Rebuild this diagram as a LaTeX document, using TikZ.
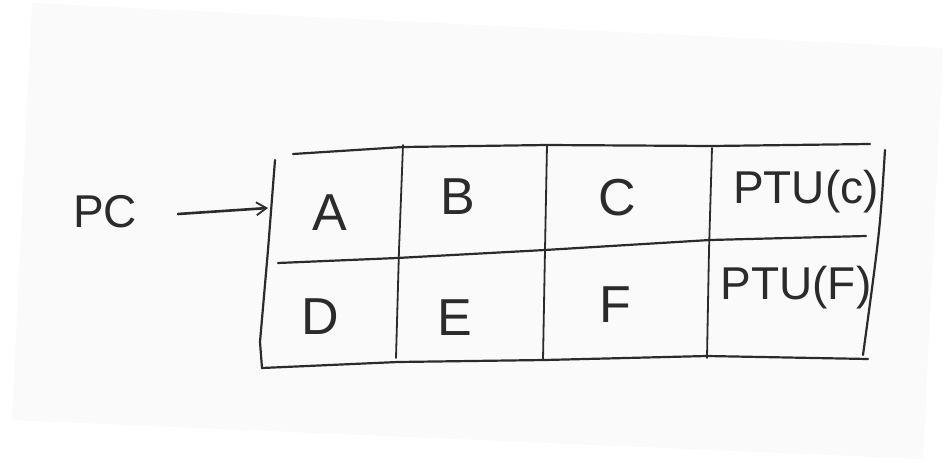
\documentclass[tikz,border=0pt]{standalone}
\usepackage{fontspec}
\setmainfont{Liberation Sans}
\usetikzlibrary{arrows.meta}
\definecolor{ink}{HTML}{2B2B2B}
\definecolor{paper}{HTML}{FAFAFA}
\tikzset{
  pen/.style={draw=ink, line width=2.2pt, line cap=round, line join=round},
  thinpen/.style={draw=ink, line width=1.8pt, line cap=round, line join=round},
  big/.style={text=ink, inner sep=0pt, font=\fontsize{52}{52}\selectfont},
  mid/.style={text=ink, inner sep=0pt, font=\fontsize{46}{46}\selectfont},
}
\begin{document}
\begin{tikzpicture}[x=1pt,y=-1pt]
\useasboundingbox (0,0) rectangle (946,463);
\fill[white] (0,0) rectangle (946,463);
\fill[paper] (32,3) -- (943,48) -- (923,459) -- (12,420) -- cycle;

% label and arrow
\node[mid] (pc) at (105,212) {PC};
\coordinate (arrS) at (178,214);
\coordinate (arrE) at (268,208);
\draw[pen, line width=2.6pt, -{Straight Barb[length=10pt,width=13pt,line width=1.8pt]}] (arrS) -- (arrE);

% table frame
\draw[pen] (293,154) -- (403,147) -- (547,145) -- (712,146) -- (870,144);   % top
\draw[pen] (278,263) -- (397,258) -- (545,250) -- (710,240) -- (866,236);   % middle
\draw[pen] (262,368) -- (398,362) -- (545,360) -- (707,356) -- (868,359);   % bottom
\draw[pen] (275,160) -- (268,250) -- (260,342) -- (262,368);                % left
\draw[thinpen] (403,145) -- (399,250) -- (396,358);                          % col 1
\draw[thinpen] (547,145) -- (545,250) -- (543,360);                          % col 2
\draw[thinpen] (712,148) -- (709,250) -- (707,358);                          % col 3
\draw[pen] (885,150) .. controls (880,230) .. (863,355);                     % right

% cell contents
\node[big] (a) at (330,213) {A};
\node[big] (b) at (458,197) {B};
\node[big] (c) at (617,198) {C};
\node[mid] (ptuc) at (806,192) {PTU(c)};
\node[big] (d) at (320,317) {D};
\node[big] (e) at (455,318) {E};
\node[big] (f) at (615,305) {F};
\node[mid] (ptuf) at (796,288) {PTU(F)};
\end{tikzpicture}
\end{document}
